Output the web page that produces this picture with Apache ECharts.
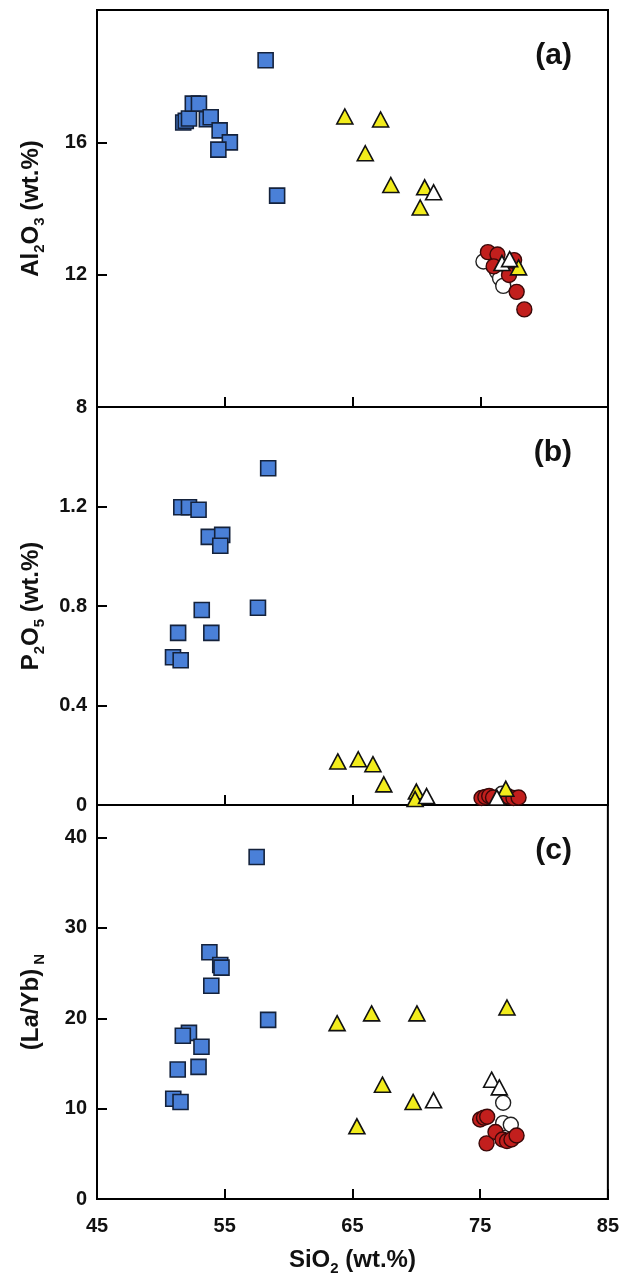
<!DOCTYPE html>
<html><head><meta charset="utf-8">
<script src="https://cdn.jsdelivr.net/npm/echarts/dist/echarts.min.js"></script>
<style>html,body{margin:0;padding:0;background:#fff}#c{width:622px;height:1277px}</style>
</head><body><div id="c"></div>
<script>
// ---- data: [SiO2, value] ----
const blueA = [[58.2,18.48],[59.1,14.39],[51.75,16.6],[51.95,16.65],[52.2,16.72],[52.5,17.17],[52.98,17.17],[53.6,16.7],[53.9,16.76],[54.6,16.36],[55.4,16.0],[54.5,15.78]];
const yellowA = [[64.4,16.78],[67.2,16.69],[66.0,15.67],[68.0,14.71],[70.65,14.64],[70.3,14.03],[78.0,12.22]];
const whiteTriA = [[71.35,14.49],[76.7,12.35],[77.3,12.47]];
const whiteCirA = [[75.25,12.4],[76.3,12.1],[76.55,11.89],[76.8,11.66]];
const redA = [[75.6,12.68],[76.35,12.61],[76.05,12.25],[77.25,11.99],[77.85,11.48],[78.45,10.95],[77.65,12.44]];

const blueB = [[58.4,1.354],[51.6,1.197],[52.2,1.197],[52.95,1.187],[53.75,1.078],[54.8,1.086],[54.65,1.042],[53.2,0.784],[57.6,0.793],[51.35,0.692],[53.95,0.692],[50.95,0.594],[51.55,0.582]];
const yellowB = [[63.85,0.175],[65.45,0.184],[66.6,0.164],[67.45,0.083],[70.0,0.054],[69.9,0.024],[77.0,0.065]];
const whiteTriB = [[70.8,0.036],[76.3,0.03]];
const whiteCirB = [[76.7,0.045]];
const redB = [[75.1,0.028],[75.4,0.032],[75.7,0.036],[76.0,0.03],[77.2,0.034],[77.6,0.028],[78.0,0.03]];

const blueC = [[57.5,37.85],[53.8,27.3],[54.65,25.9],[54.75,25.6],[53.95,23.6],[58.4,19.82],[52.2,18.38],[51.72,18.07],[53.18,16.85],[51.32,14.33],[52.95,14.62],[50.97,11.1],[51.54,10.74]];
const yellowC = [[63.8,19.46],[66.5,20.54],[70.05,20.54],[77.1,21.19],[67.35,12.65],[69.75,10.74],[65.35,8.04]];
const whiteTriC = [[71.35,10.92],[75.9,13.2],[76.5,12.35]];
const whiteCirC = [[76.8,10.65],[76.8,8.4],[77.4,8.22]];
const redC = [[75.0,8.8],[75.3,9.0],[75.55,9.1],[75.5,6.16],[76.2,7.42],[76.75,6.59],[77.1,6.41],[77.45,6.59],[77.85,7.03]];

const panelLabels = ['(a)','(b)','(c)'];
const xLabels = ['45','55','65','75','85'];

// ---- chart ----
const FONT = '"Liberation Sans", Arial, sans-serif';
const chart = echarts.init(document.getElementById('c'));
const grids = [
  {left:97, width:511, top:10, height:397},
  {left:97, width:511, top:407, height:398},
  {left:97, width:511, top:805, height:404}
];
const rich = {
  m:{fontSize:24, fontWeight:'bold', fontFamily:FONT, color:'#111', lineHeight:32, verticalAlign:'middle'},
  s:{fontSize:15, fontWeight:'bold', fontFamily:FONT, color:'#111', lineHeight:15, verticalAlign:'bottom'}
};
const yNames = ['{m|Al}{s|2}{m|O}{s|3}{m| (wt.%)}', '{m|P}{s|2}{m|O}{s|5}{m| (wt.%)}', '{m|(La/Yb)}{s| N}'];
const yRanges = [[8,20,4],[0,1.6,0.4],[0,43.6,10]];

const xAxes = grids.map((g,i)=>({
  gridIndex:i, type:'value', min:45, max:85, interval:10,
  axisLine:{show:true, lineStyle:{color:'#000', width:2}},
  axisTick:{show:true, inside:true, length:10, lineStyle:{color:'#000', width:2}},
  splitLine:{show:false},
  axisLabel:{show:i===2, margin:17, fontSize:20, fontWeight:'bold', fontFamily:FONT, color:'#111',
    formatter:v=>xLabels[Math.round((v-45)/10)]},
  name: i===2 ? '{m|SiO}{s|2}{m| (wt.%)}' : '',
  nameLocation:'middle', nameGap:45, nameTextStyle:{rich:rich}
}));
const yAxes = grids.map((g,i)=>({
  gridIndex:i, type:'value', min:yRanges[i][0], max:yRanges[i][1], interval:yRanges[i][2],
  axisLine:{show:true, lineStyle:{color:'#000', width:2}},
  axisTick:{show:true, inside:true, length:10, lineStyle:{color:'#000', width:2}},
  splitLine:{show:false},
  axisLabel:{showMaxLabel:false, margin:10, fontSize:20, fontWeight:'bold', fontFamily:FONT, color:'#111'},
  name:yNames[i], nameLocation:'middle', nameRotate:90, nameGap:50, nameTextStyle:{rich:rich}
}));

const styles = {
  blue:{symbol:'rect', size:15, color:'#4a80d8', border:'#14223c', bw:1.6},
  yellow:{symbol:'triangle', size:[16,15], color:'#f2ec1c', border:'#111', bw:1.6},
  wtri:{symbol:'triangle', size:[16,15], color:'#ffffff', border:'#111', bw:1.6},
  wcir:{symbol:'circle', size:15, color:'#ffffff', border:'#222', bw:1.4},
  red:{symbol:'circle', size:15, color:'#c21f1d', border:'#3a0808', bw:1.4}
};
const sets = [
  [['wcir',whiteCirA],['red',redA],['yellow',yellowA],['wtri',whiteTriA],['blue',blueA]],
  [['wcir',whiteCirB],['red',redB],['yellow',yellowB],['wtri',whiteTriB],['blue',blueB]],
  [['wcir',whiteCirC],['red',redC],['yellow',yellowC],['wtri',whiteTriC],['blue',blueC]]
];
const series = [];
sets.forEach((arr,i)=>arr.forEach(([k,d])=>{
  const s = styles[k];
  series.push({type:'scatter', xAxisIndex:i, yAxisIndex:i, data:d, clip:false,
    symbol:s.symbol, symbolSize:s.size,
    itemStyle:{color:s.color, borderColor:s.border, borderWidth:s.bw, opacity:1}});
}));

chart.setOption({
  animation:false,
  backgroundColor:'#fff',
  grid: grids.map(g=>Object.assign({show:true, borderColor:'#000', borderWidth:2, backgroundColor:'transparent'}, g)),
  title: panelLabels.map((t,i)=>({text:t, right:50, top:grids[i].top+31, padding:0,
    textStyle:{fontSize:30, fontWeight:'bold', fontFamily:FONT, color:'#111'}})),
  xAxis:xAxes, yAxis:yAxes, series:series
});
</script></body></html>
